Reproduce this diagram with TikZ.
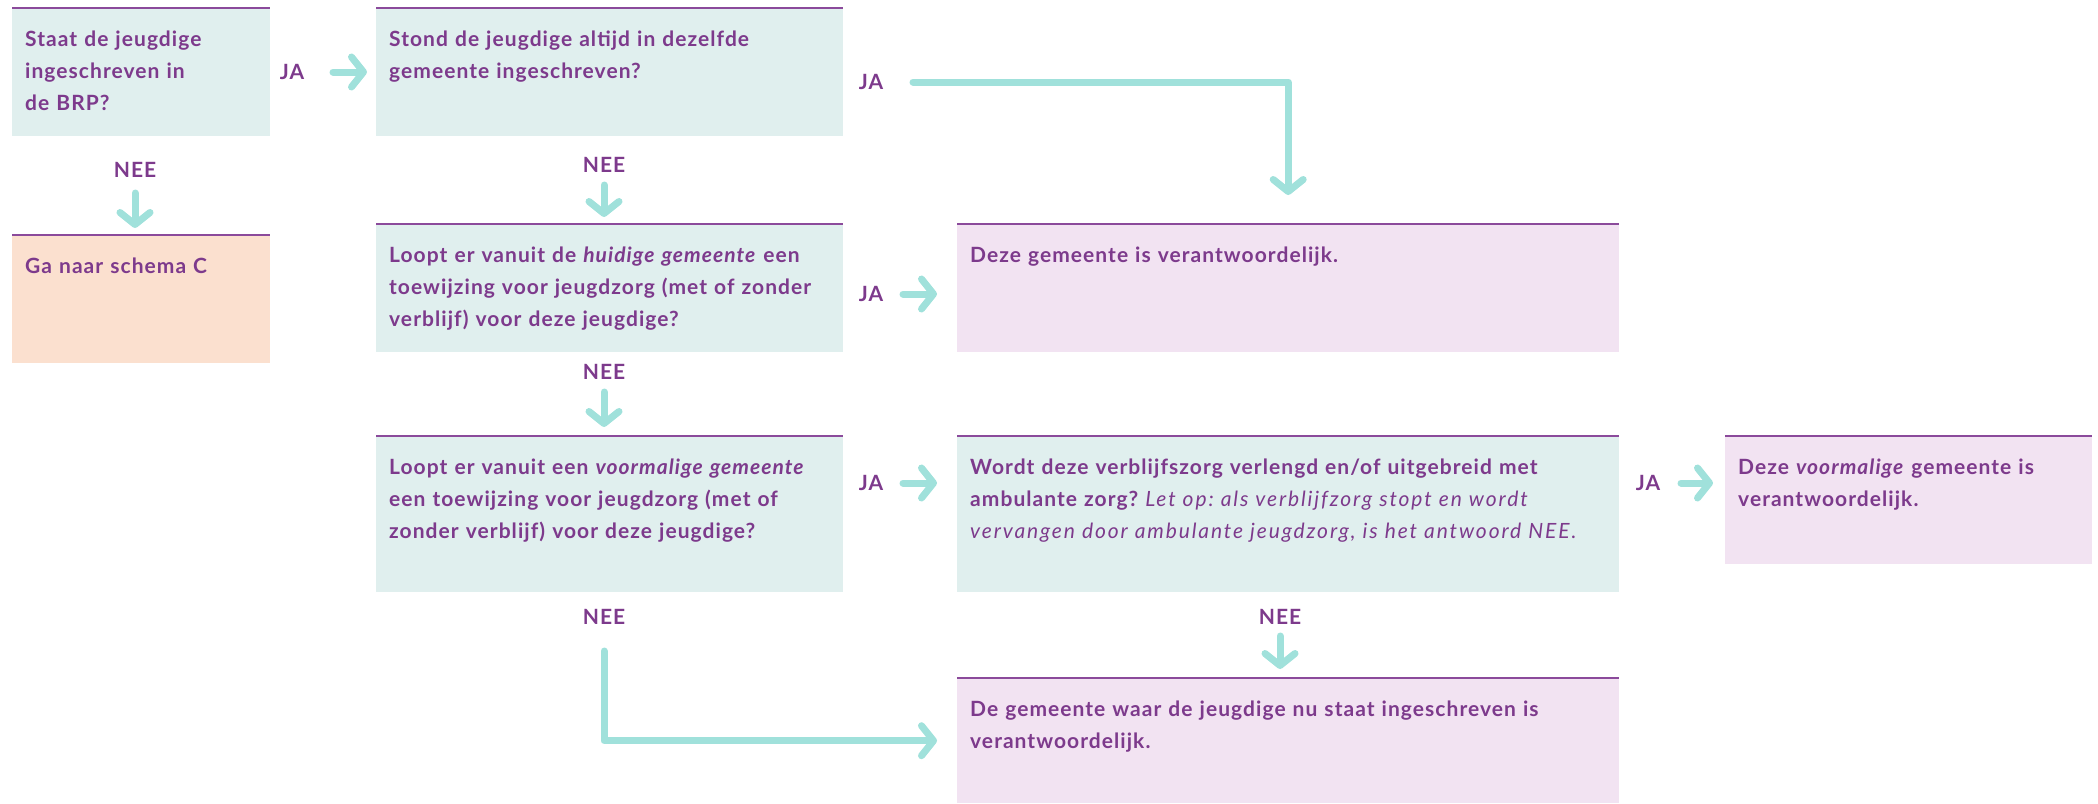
\documentclass[tikz,border=0pt]{standalone}
\usepackage{fontspec}
\setmainfont{Lato}[LetterSpace=5.0]
\newfontfamily\notefont{Lato}[LetterSpace=9.0]
\usetikzlibrary{arrows.meta}
\definecolor{txtpurple}{HTML}{7D3A8C}
\definecolor{linepurple}{HTML}{8B4A9B}
\definecolor{arrowteal}{HTML}{A0E1DB}
\definecolor{fillteal}{HTML}{E0EFEE}
\definecolor{fillpink}{HTML}{F2E3F2}
\definecolor{fillpeach}{HTML}{FBE0CF}
\tikzset{
  box/.style={anchor=north west, inner xsep=13pt, inner ysep=0pt, text height=38.5pt,
    align=left, text=txtpurple, font=\fontsize{21}{32}\selectfont\bfseries},
  qbox/.style={box, fill=fillteal},
  abox/.style={box, fill=fillpink},
  cbox/.style={box, fill=fillpeach},
  topline/.style={draw=linepurple, line width=2pt},
  lbl/.style={inner sep=0pt, text=txtpurple, font=\fontsize{21}{24}\selectfont\bfseries},
  arr/.style={draw=arrowteal, line width=7pt, line cap=round, line join=round,
    -{Straight Barb[length=12pt, width=30pt, round]}},
}
\frenchspacing
\begin{document}
\begin{tikzpicture}[x=1pt, y=-1pt]
\useasboundingbox (0,0) rectangle (2098,803);
% boxes
\node[qbox, text width=232pt, text depth=89.5pt] (b1) at (12,8)
  {Staat de jeugdige\\ingeschreven in\\de BRP?};
\node[cbox, text width=232pt, text depth=89.5pt] (ga) at (12,235)
  {Ga naar schema C};
\node[qbox, text width=441pt, text depth=89.5pt] (b2) at (376,8)
  {Stond de jeugdige altijd in dezelfde\\gemeente ingeschreven?};
\node[qbox, text width=441pt, text depth=89.5pt] (b3) at (376,224)
  {Loopt er vanuit de \textit{huidige gemeente} een\\toewijzing voor jeugdzorg (met of zonder\\verblijf) voor deze jeugdige?};
\node[qbox, text width=441pt, text depth=117.5pt] (b4) at (376,436)
  {Loopt er vanuit een \textit{voormalige gemeente}\\een toewijzing voor jeugdzorg (met of\\zonder verblijf) voor deze jeugdige?};
\node[abox, text width=636pt, text depth=89.5pt] (b5) at (957,224)
  {Deze gemeente is verantwoordelijk.};
\node[qbox, text width=636pt, text depth=117.5pt] (b6) at (957,436)
  {Wordt deze verblijfszorg verlengd en/of uitgebreid met\\ambulante zorg? {\notefont\mdseries\itshape Let op: als verblijfzorg stopt en wordt}\\{\notefont\mdseries\itshape vervangen door ambulante jeugdzorg, is het antwoord NEE.}};
\node[abox, text width=341pt, text depth=89.5pt] (b7) at (1725,436)
  {Deze \textit{voormalige} gemeente is\\verantwoordelijk.};
\node[abox, text width=636pt, text depth=86.5pt] (b8) at (957,678)
  {De gemeente waar de jeugdige nu staat ingeschreven is\\verantwoordelijk.};
% top lines
\foreach \b in {b1,ga,b2,b3,b4,b5,b6,b7,b8}
  \draw[topline] (\b.north west) -- (\b.north east);
% labels
\node[lbl] (ja1) at (292,72) {JA};
\node[lbl] (nee1) at (135,170) {NEE};
\node[lbl] (ja2) at (871,82) {JA};
\node[lbl] (nee2) at (604,165) {NEE};
\node[lbl] (ja3) at (871,294) {JA};
\node[lbl] (nee3) at (604,372) {NEE};
\node[lbl] (ja4) at (871,483) {JA};
\node[lbl] (nee4) at (604,617) {NEE};
\node[lbl] (ja6) at (1648,483) {JA};
\node[lbl] (nee6) at (1280,617) {NEE};
% connectors
\draw[arr, shorten <=41pt, shorten >=9pt] (ja1.center) -- (ja1.center -| b2.west);
\draw[arr, shorten <=23pt, shorten >=7pt] (nee1.center) -- (nee1.center |- ga.north);
\draw[arr, shorten <=42pt, shorten >=29pt] (ja2.center) -| (b5.north);
\draw[arr, shorten <=20pt, shorten >=7pt] (nee2.center) -- (nee2.center |- b3.north);
\draw[arr, shorten <=32pt, shorten >=20pt] (ja3.center) -- (ja3.center -| b5.west);
\draw[arr, shorten <=20pt, shorten >=9pt] (nee3.center) -- (nee3.center |- b4.north);
\draw[arr, shorten <=32pt, shorten >=20pt] (ja4.center) -- (ja4.center -| b6.west);
\draw[arr, shorten <=33pt, shorten >=12pt] (ja6.center) -- (ja6.center -| b7.west);
\draw[arr, shorten <=19pt, shorten >=9pt] (nee6.center) -- (nee6.center |- b8.north);
\draw[arr, shorten <=34pt, shorten >=20pt] (nee4.center) |- (b8.west);
\end{tikzpicture}
\end{document}
